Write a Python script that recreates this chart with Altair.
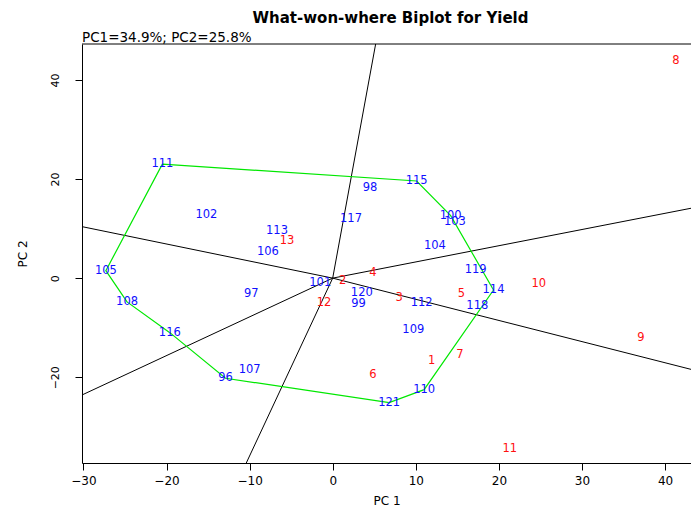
import altair as alt
import pandas as pd

TITLE = "What-won-where Biplot for Yield"
SUBTITLE = "PC1=34.9%; PC2=25.8%"

# Genotypes (blue)
gen_labels = ["96", "97", "98", "99", "100", "101", "102", "103", "104", "105",
              "106", "107", "108", "109", "110", "111", "112", "113", "114", "115",
              "116", "117", "118", "119", "120", "121"]
gen_pc1 = [-12.9, -9.8, 4.5, 3.1, 14.2, -1.5, -15.2, 14.7, 12.3, -27.3,
           -7.8, -10.0, -24.75, 9.7, 11.0, -20.5, 10.7, -6.7, 19.35, 10.1,
           -19.6, 2.2, 17.4, 17.2, 3.5, 6.8]
gen_pc2 = [-20.2, -3.2, 18.2, -5.2, 12.6, -1.0, 12.8, 11.3, 6.5, 1.5,
           5.2, -18.5, -4.8, -10.4, -22.5, 23.0, -5.0, 9.5, -2.4, 19.6,
           -11.0, 11.9, -5.6, 1.7, -3.0, -25.1]

# Environments (red)
env_labels = ["1", "2", "3", "4", "5", "6", "7", "8", "9", "10", "11", "12", "13"]
env_pc1 = [11.9, 1.2, 8.0, 4.85, 15.5, 4.85, 15.3, 41.3, 37.1, 24.8, 21.3, -1.05, -5.5]
env_pc2 = [-16.8, -0.5, -4.0, 1.1, -3.2, -19.6, -15.5, 43.9, -12.0, -1.15, -34.4, -5.0, 7.5]

# Convex hull (polygon) vertex order, by genotype
hull_order = ["111", "115", "100", "114", "110", "121", "96", "116", "108", "105", "111"]

# Rays from the origin, end points at the plot edges
ray_pc1 = [-30.2, 44.04, 44.04, -30.2, 5.17, -10.4]
ray_pc2 = [10.4, -18.8, 14.4, -23.6, 47.24, -37.3]

x_ticks = [-30, -20, -10, 0, 10, 20, 30, 40]
y_ticks = [-20, 0, 20, 40]
x_domain = [-30.17, 43.12]
y_domain = [-37.3, 47.24]

FONT = "DejaVu Sans"
W, H = 609, 419

gen_df = pd.DataFrame({"label": gen_labels, "pc1": gen_pc1, "pc2": gen_pc2})
env_df = pd.DataFrame({"label": env_labels, "pc1": env_pc1, "pc2": env_pc2})
pos = {l: (a, b) for l, a, b in zip(gen_labels, gen_pc1, gen_pc2)}
hull_df = pd.DataFrame({
    "ord": list(range(len(hull_order))),
    "pc1": [pos[g][0] for g in hull_order],
    "pc2": [pos[g][1] for g in hull_order],
})
ray_df = pd.DataFrame({"x0": [0.0] * len(ray_pc1), "y0": [0.0] * len(ray_pc2),
                       "x1": ray_pc1, "y1": ray_pc2})
sub_df = pd.DataFrame({"t": [SUBTITLE]})

xscale = alt.Scale(domain=x_domain, nice=False, zero=False)
yscale = alt.Scale(domain=y_domain, nice=False, zero=False)

xaxis = alt.Axis(values=x_ticks, title="PC 1", grid=False, domain=True,
                 domainColor="black", domainWidth=1,
                 tickSize=7, tickColor="black", labelFont=FONT, labelFontSize=12,
                 labelColor="black", labelPadding=5, labelFlush=False,
                 titleFont=FONT, titleFontSize=12, titleFontWeight="normal",
                 titleColor="black", titlePadding=9)
yaxis = alt.Axis(values=y_ticks, title="PC 2", grid=False, domain=True,
                 domainColor="black", domainWidth=1,
                 tickSize=7, tickColor="black", labelFont=FONT, labelFontSize=11,
                 labelColor="black", labelAngle=270, labelAlign="center",
                 labelBaseline="bottom", labelPadding=14.5, labelFlush=False,
                 titleFont=FONT, titleFontSize=12, titleFontWeight="normal",
                 titleColor="black", titlePadding=20)

rays = alt.Chart(ray_df).mark_rule(color="black", strokeWidth=1, clip=True).encode(
    x=alt.X("x0:Q", scale=xscale, axis=xaxis),
    y=alt.Y("y0:Q", scale=yscale, axis=yaxis),
    x2="x1:Q",
    y2="y1:Q",
)

poly = alt.Chart(hull_df).mark_line(color="#00e800", strokeWidth=1.2).encode(
    x=alt.X("pc1:Q", scale=xscale),
    y=alt.Y("pc2:Q", scale=yscale),
    order="ord:Q",
)

gen_text = alt.Chart(gen_df).mark_text(font=FONT, fontSize=11.5, color="#1010ff",
                                       align="center", baseline="middle").encode(
    x=alt.X("pc1:Q", scale=xscale),
    y=alt.Y("pc2:Q", scale=yscale),
    text="label:N",
)

env_text = alt.Chart(env_df).mark_text(font=FONT, fontSize=11.5, color="#ff1010",
                                       align="center", baseline="middle").encode(
    x=alt.X("pc1:Q", scale=xscale),
    y=alt.Y("pc2:Q", scale=yscale),
    text="label:N",
)

# top border of the plot box (the right side lies beyond the picture)
top_border = alt.Chart(sub_df).mark_rule(color="black", strokeWidth=1).encode(
    x=alt.value(0), x2=alt.value(W), y=alt.value(0)
)

subtitle = alt.Chart(sub_df).mark_text(font=FONT, fontSize=13.5, color="black",
                                       align="left", baseline="middle").encode(
    x=alt.value(0),
    y=alt.value(-6.5),
    text="t:N",
)

chart = alt.layer(rays, poly, gen_text, env_text, top_border, subtitle).properties(
    width=W,
    height=H,
    title=alt.TitleParams(TITLE, font=FONT, fontSize=15, fontWeight="bold",
                          anchor="middle", color="black", offset=5, dx=4),
    padding={"left": 74, "top": 36, "right": 0, "bottom": 43},
    autosize=alt.AutoSizeParams(type="none"),
).configure_view(stroke=None)

chart.save("out.html", embed_options={"renderer": "svg", "actions": False})
